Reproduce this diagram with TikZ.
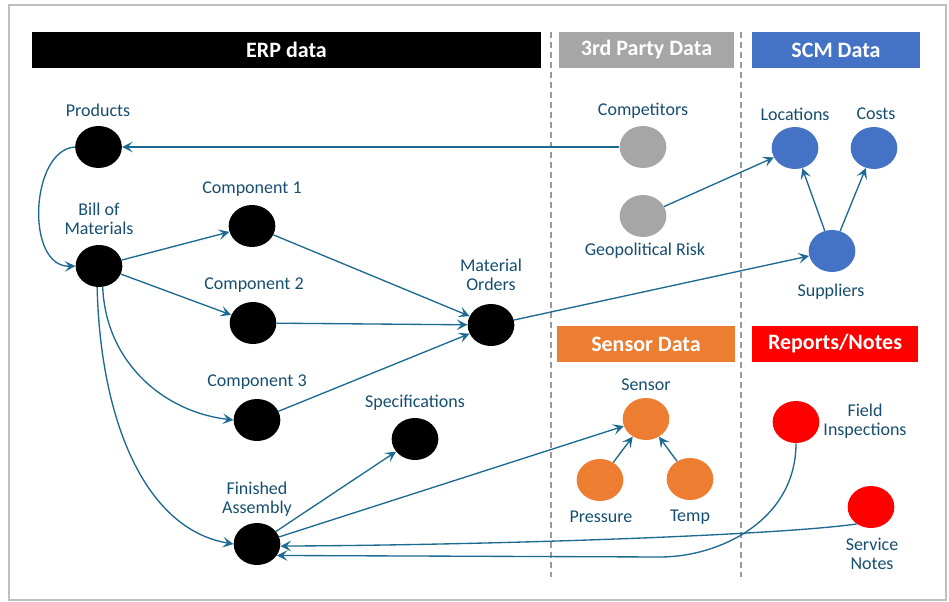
\documentclass[tikz,border=0pt]{standalone}
\usepackage{fontspec}
\setmainfont{Carlito}
\usetikzlibrary{arrows.meta,shapes.geometric}
\definecolor{lbl}{RGB}{22,78,112}
\definecolor{arr}{RGB}{28,105,145}
\definecolor{gry}{RGB}{166,166,166}
\definecolor{blu}{RGB}{68,114,196}
\definecolor{org}{RGB}{237,125,49}
\definecolor{rd}{RGB}{255,0,0}
\begin{document}
\begin{tikzpicture}[x=0.75pt,y=-0.75pt,
 dot/.style={ellipse, minimum width=35pt, minimum height=31.5pt, inner sep=0pt},
 lab/.style={text=lbl, font=\fontsize{13.5}{14.5}\selectfont, align=center, inner sep=0pt},
 hdr/.style={text=white, font=\fontsize{16.5}{18}\selectfont\bfseries, minimum height=27pt, inner sep=0pt},
 conn/.style={draw=arr, line width=1pt, -{Stealth[length=8pt,width=8pt,inset=3.5pt]}},
 divider/.style={draw=gray!80, line width=0.8pt, dash pattern=on 4.5pt off 3pt}]
\useasboundingbox (0,0) rectangle (949,602);
\draw[gray!50, line width=1pt] (9,5) rectangle (946,600);
% dividers
\draw[divider] (551,32) -- (551,577);
\draw[divider] (741,32) -- (741,577);
% headers
\node[hdr, fill=black, minimum width=381.75pt] (hErp) at (286.5,50) {ERP data};
\node[hdr, fill=gry, minimum width=131.25pt] (hThird) at (646.5,50) {3rd Party Data};
\node[hdr, fill=blu, minimum width=126pt] (hScm) at (836,50) {SCM Data};
\node[hdr, fill=org, minimum width=133.5pt] (hSens) at (646,344) {Sensor Data};
\node[hdr, fill=rd, minimum width=124.5pt] (hRep) at (835,344) {Reports/Notes};
% ERP nodes
\node[dot, fill=black] (prod) at (98.5,147) {};
\node[dot, fill=black] (bom) at (99,266) {};
\node[dot, fill=black] (c1) at (252,226) {};
\node[dot, fill=black] (c2) at (253,323) {};
\node[dot, fill=black] (c3) at (257,420) {};
\node[dot, fill=black] (fa) at (257,544) {};
\node[dot, fill=black] (spec) at (415,439) {};
\node[dot, fill=black] (mo) at (491,325) {};
% 3rd party
\node[dot, fill=gry] (comp) at (643,147) {};
\node[dot, fill=gry] (geo) at (643,216) {};
% SCM
\node[dot, fill=blu] (loc) at (795,148) {};
\node[dot, fill=blu] (cost) at (874,148) {};
\node[dot, fill=blu] (sup) at (832,251) {};
% sensor
\node[dot, fill=org] (sens) at (646,419) {};
\node[dot, fill=org] (pres) at (600,480) {};
\node[dot, fill=org] (temp) at (690,479) {};
% reports
\node[dot, fill=rd] (fi) at (796,422) {};
\node[dot, fill=rd] (sn) at (871,507) {};
% labels
\node[lab] (lProd) at (98,110) {Products};
\node[lab] (lBom) at (99,219) {Bill of\\Materials};
\node[lab] (lC1) at (252,189) {Component 1};
\node[lab] (lC2) at (254,285) {Component 2};
\node[lab] (lC3) at (257,382) {Component 3};
\node[lab] (lFa) at (257,499) {Finished\\Assembly};
\node[lab] (lSpec) at (415,403) {Specifications};
\node[lab] (lMo) at (491,275) {Material\\Orders};
\node[lab] (lComp) at (643,111) {Competitors};
\node[lab] (lGeo) at (645,251) {Geopolitical Risk};
\node[lab] (lLoc) at (795,114) {Locations};
\node[lab] (lCost) at (876,114) {Costs};
\node[lab] (lSup) at (831,292) {Suppliers};
\node[lab] (lSens) at (646,385) {Sensor};
\node[lab] (lPres) at (601,517) {Pressure};
\node[lab] (lTemp) at (690,517) {Temp};
\node[lab] (lFi) at (865,421) {Field\\Inspections};
\node[lab] (lSn) at (872,554) {Service\\Notes};
% connectors
\draw[conn] (comp) -- (prod);
\draw[conn] (prod.west) .. controls (30,150) and (25,268) .. (bom.west);
\draw[conn] (bom) -- (c1);
\draw[conn] (bom) -- (c2);
\draw[conn] (bom.-80) .. controls +(3,75) and +(-70,-8) .. (c3.west);
\draw[conn] (bom.-95) .. controls +(3,130) and +(-90,-15) .. (fa.west);
\draw[conn] (c1) -- (mo);
\draw[conn] (c2) -- (mo);
\draw[conn] (c3) -- (mo);
\draw[conn] (mo) -- (sup);
\draw[conn] (geo) -- (loc);
\draw[conn] (sup) -- (loc);
\draw[conn] (sup) -- (cost);
\draw[conn] (fa) -- (spec);
\draw[conn] (fa) -- (sens);
\draw[conn] (pres) -- (sens);
\draw[conn] (temp) -- (sens);
\draw[conn] (sn.-130) .. controls (780,535) and (500,545) .. (fa.-5);
\draw[conn] (fi.south) .. controls (796,520) and (720,557) .. (660,557) -- (fa.-30);
\end{tikzpicture}
\end{document}
